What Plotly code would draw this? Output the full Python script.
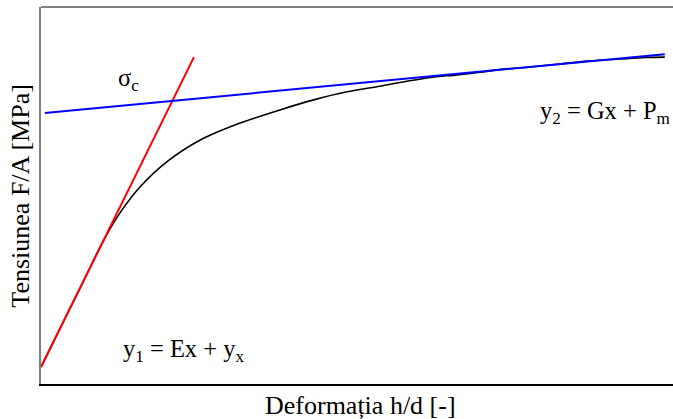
import plotly.graph_objects as go

# Experimental curve (normalized deformation vs. normalized stress)
curve_x = [0, 0.030, 0.062, 0.101, 0.125, 0.157, 0.199, 0.252, 0.315, 0.378, 0.430, 0.484,
           0.536, 0.579, 0.616, 0.658, 0.695, 0.726, 0.774, 0.821, 0.869, 0.916, 0.956, 0.987]
curve_y = [0.045, 0.147, 0.255, 0.387, 0.454, 0.523, 0.589, 0.647, 0.692, 0.727, 0.753, 0.775,
           0.790, 0.803, 0.813, 0.820, 0.827, 0.834, 0.841, 0.849, 0.857, 0.862, 0.866, 0.867]

# Elastic tangent y1 = Ex + yx
red_x = [0, 0.242]
red_y = [0.045, 0.867]

# Plateau tangent y2 = Gx + Pm
blue_x = [0.006, 0.987]
blue_y = [0.719, 0.875]

FONT = "Liberation Serif, Times New Roman, serif"

fig = go.Figure()
fig.add_trace(go.Scatter(x=curve_x, y=curve_y, mode="lines",
                         line=dict(color="black", width=1.6, shape="spline", smoothing=0.8),
                         showlegend=False))
fig.add_trace(go.Scatter(x=red_x, y=red_y, mode="lines",
                         line=dict(color="#ff0000", width=2), showlegend=False))
fig.add_trace(go.Scatter(x=blue_x, y=blue_y, mode="lines",
                         line=dict(color="#0000ff", width=2), showlegend=False))

fig.add_annotation(x=0.138, y=0.808, text="σ<sub>c</sub>", showarrow=False,
                   font=dict(family=FONT, size=24.5, color="black"))
fig.add_annotation(x=0.787, y=0.721, text="y<sub>2</sub> = Gx + P<sub>m</sub>", showarrow=False,
                   xanchor="left", font=dict(family=FONT, size=24.5, color="black"))
fig.add_annotation(x=0.126, y=0.09, text="y<sub>1</sub> = Ex + y<sub>x</sub>", showarrow=False,
                   xanchor="left", font=dict(family=FONT, size=24.5, color="black"))

# axis titles
fig.add_annotation(xref="paper", yref="paper", x=0.505, y=-0.056, yanchor="middle",
                   text="Deformația h/d [-]", showarrow=False,
                   font=dict(family=FONT, size=26, color="black"))
fig.add_annotation(xref="paper", yref="paper", x=-0.033, y=0.5, xanchor="center", yanchor="middle",
                   textangle=-90, text="Tensiunea F/A [MPa]", showarrow=False,
                   font=dict(family=FONT, size=26, color="black"))

# top border (gray)
fig.add_shape(type="line", xref="paper", yref="paper", x0=0, x1=1, y0=1, y1=1,
              line=dict(color="#808080", width=2))

fig.update_layout(
    width=673, height=419,
    margin=dict(l=41, r=0, t=7, b=35, autoexpand=False),
    paper_bgcolor="white", plot_bgcolor="white",
    font=dict(family=FONT, color="black"),
    xaxis=dict(range=[0, 1], showgrid=False, zeroline=False, showticklabels=False, ticks="",
               showline=True, linecolor="black", linewidth=2, automargin=False),
    yaxis=dict(range=[0, 1], showgrid=False, zeroline=False, showticklabels=False, ticks="",
               showline=True, linecolor="#808080", linewidth=1.5, automargin=False),
)

fig.write_html("out.html", config={"displayModeBar": False},
               post_script="document.body.style.margin='0';document.body.style.overflow='hidden';")
